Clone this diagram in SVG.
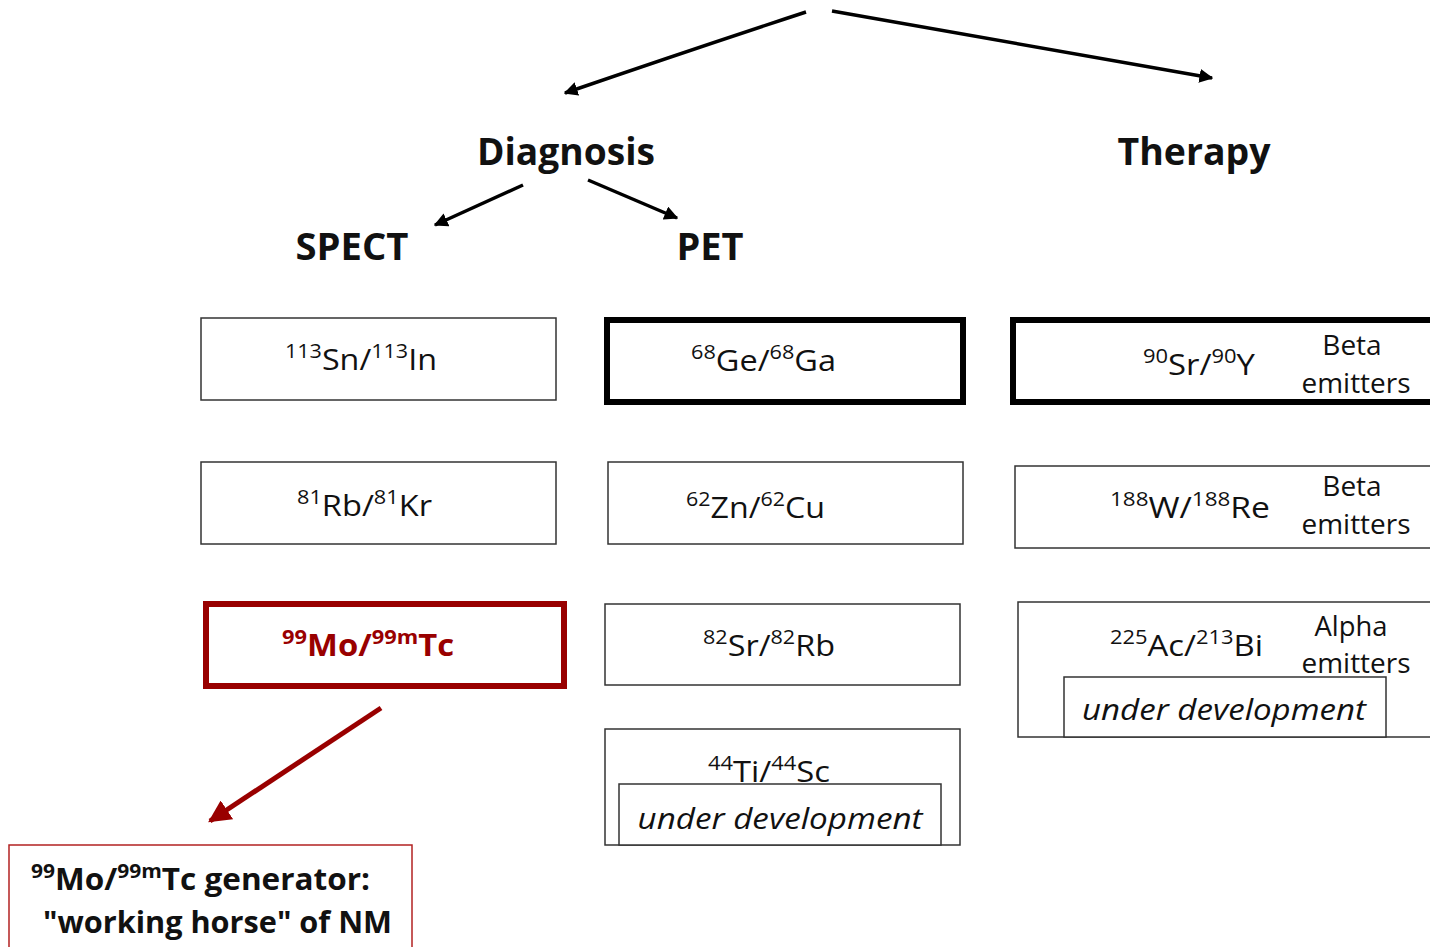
<svg xmlns="http://www.w3.org/2000/svg" width="1430" height="947" viewBox="0 0 1430 947">
<defs>
<style>
text{font-family:"Open Sans","Liberation Sans",sans-serif;fill:#111}
.h{font-weight:bold;font-size:38px}
.n{font-size:30px}
.s{font-size:20px}
.e{font-size:28px}
.i{font-style:italic;font-size:30px}
.box{fill:#fff;stroke:#333;stroke-width:1.5}
.thick{fill:#fff;stroke:#000;stroke-width:6}
.red{fill:#fff;stroke:#990000;stroke-width:6}
.redthin{fill:#fff;stroke:#b22222;stroke-width:1.5}
.c{fill:none;stroke:#000;stroke-width:3.5}
</style>
<marker id="ah" viewBox="0 0 10 10" refX="9" refY="5" markerWidth="4" markerHeight="4" orient="auto" markerUnits="strokeWidth"><path d="M0,0 L10,5 L0,10 z" fill="#000"/></marker>
<marker id="ahr" viewBox="0 0 10 10" refX="9" refY="5" markerWidth="4.5" markerHeight="4.5" orient="auto" markerUnits="strokeWidth"><path d="M0,0 L10,5 L0,10 z" fill="#990000"/></marker>
</defs>
<g id="connectors">
<path class="c" d="M806,12 Q690,50 565,93" marker-end="url(#ah)"/>
<path class="c" d="M832,11 L1212,78" marker-end="url(#ah)"/>
<path class="c" d="M523,185 L435,225" marker-end="url(#ah)"/>
<path class="c" d="M588,180 L677,218" marker-end="url(#ah)"/>
<path d="M381,708 L210,821" fill="none" stroke="#990000" stroke-width="5" marker-end="url(#ahr)"/>
</g>
<g id="diagnosis"><text class="h" x="566" y="165" text-anchor="middle" textLength="178" lengthAdjust="spacingAndGlyphs">Diagnosis</text></g>
<g id="therapy"><text class="h" x="1194" y="165" text-anchor="middle" textLength="153" lengthAdjust="spacingAndGlyphs">Therapy</text></g>
<g id="spect"><text class="h" x="352" y="260" text-anchor="middle" textLength="113" lengthAdjust="spacingAndGlyphs">SPECT</text></g>
<g id="pet"><text class="h" x="710" y="260" text-anchor="middle" textLength="67" lengthAdjust="spacingAndGlyphs">PET</text></g>

<g id="sn-in"><rect class="box" x="201" y="318" width="355" height="82"/>
<text x="285" y="370" textLength="152" lengthAdjust="spacingAndGlyphs"><tspan class="s" dy="-12">113</tspan><tspan class="n" dy="12">Sn/</tspan><tspan class="s" dy="-12">113</tspan><tspan class="n" dy="12">In</tspan></text></g>

<g id="ge-ga"><rect class="thick" x="607" y="320" width="356" height="82"/>
<text x="691" y="371" textLength="145" lengthAdjust="spacingAndGlyphs"><tspan class="s" dy="-12">68</tspan><tspan class="n" dy="12">Ge/</tspan><tspan class="s" dy="-12">68</tspan><tspan class="n" dy="12">Ga</tspan></text></g>

<g id="sr-y"><rect class="thick" x="1013" y="320" width="430" height="82"/>
<text x="1143" y="375" textLength="112" lengthAdjust="spacingAndGlyphs"><tspan class="s" dy="-12">90</tspan><tspan class="n" dy="12">Sr/</tspan><tspan class="s" dy="-12">90</tspan><tspan class="n" dy="12">Y</tspan></text>
<text class="e" x="1352" y="355" text-anchor="middle">Beta</text>
<text class="e" x="1356" y="393" text-anchor="middle" textLength="109" lengthAdjust="spacingAndGlyphs">emitters</text></g>

<g id="rb-kr"><rect class="box" x="201" y="462" width="355" height="82"/>
<text x="297" y="516" textLength="135" lengthAdjust="spacingAndGlyphs"><tspan class="s" dy="-12">81</tspan><tspan class="n" dy="12">Rb/</tspan><tspan class="s" dy="-12">81</tspan><tspan class="n" dy="12">Kr</tspan></text></g>

<g id="zn-cu"><rect class="box" x="608" y="462" width="355" height="82"/>
<text x="686" y="518" textLength="139" lengthAdjust="spacingAndGlyphs"><tspan class="s" dy="-12">62</tspan><tspan class="n" dy="12">Zn/</tspan><tspan class="s" dy="-12">62</tspan><tspan class="n" dy="12">Cu</tspan></text></g>

<g id="w-re"><rect class="box" x="1015" y="466" width="430" height="82"/>
<text x="1110" y="518" textLength="160" lengthAdjust="spacingAndGlyphs"><tspan class="s" dy="-12">188</tspan><tspan class="n" dy="12">W/</tspan><tspan class="s" dy="-12">188</tspan><tspan class="n" dy="12">Re</tspan></text>
<text class="e" x="1352" y="496" text-anchor="middle">Beta</text>
<text class="e" x="1356" y="534" text-anchor="middle" textLength="109" lengthAdjust="spacingAndGlyphs">emitters</text></g>

<g id="mo-tc"><rect class="red" x="206" y="604" width="358" height="82"/>
<text x="282" y="656" textLength="172" lengthAdjust="spacingAndGlyphs" style="fill:#990000;font-weight:bold"><tspan class="s" dy="-12">99</tspan><tspan class="n" dy="12">Mo/</tspan><tspan class="s" dy="-12">99m</tspan><tspan class="n" dy="12">Tc</tspan></text></g>

<g id="sr-rb"><rect class="box" x="605" y="604" width="355" height="81"/>
<text x="703" y="656" textLength="132" lengthAdjust="spacingAndGlyphs"><tspan class="s" dy="-12">82</tspan><tspan class="n" dy="12">Sr/</tspan><tspan class="s" dy="-12">82</tspan><tspan class="n" dy="12">Rb</tspan></text></g>

<g id="ac-bi"><rect class="box" x="1018" y="602" width="430" height="135"/>
<text x="1110" y="656" textLength="153" lengthAdjust="spacingAndGlyphs"><tspan class="s" dy="-12">225</tspan><tspan class="n" dy="12">Ac/</tspan><tspan class="s" dy="-12">213</tspan><tspan class="n" dy="12">Bi</tspan></text>
<text class="e" x="1351" y="636" text-anchor="middle" textLength="73" lengthAdjust="spacingAndGlyphs">Alpha</text>
<text class="e" x="1356" y="673" text-anchor="middle" textLength="109" lengthAdjust="spacingAndGlyphs">emitters</text>
<rect class="box" x="1064" y="677" width="322" height="60"/>
<text class="i" x="1224" y="720" text-anchor="middle" textLength="284" lengthAdjust="spacingAndGlyphs">under development</text></g>

<g id="ti-sc"><rect class="box" x="605" y="729" width="355" height="116"/>
<text x="708" y="782" textLength="122" lengthAdjust="spacingAndGlyphs"><tspan class="s" dy="-12">44</tspan><tspan class="n" dy="12">Ti/</tspan><tspan class="s" dy="-12">44</tspan><tspan class="n" dy="12">Sc</tspan></text>
<rect class="box" x="619" y="784" width="322" height="61"/>
<text class="i" x="780" y="829" text-anchor="middle" textLength="285" lengthAdjust="spacingAndGlyphs">under development</text></g>

<g id="generator"><rect class="redthin" x="9" y="845" width="403" height="110"/>
<text x="31" y="890" textLength="339" lengthAdjust="spacingAndGlyphs" style="font-weight:bold"><tspan class="s" dy="-12">99</tspan><tspan class="n" dy="12">Mo/</tspan><tspan class="s" dy="-12">99m</tspan><tspan class="n" dy="12">Tc generator:</tspan></text>
<text class="n" x="43" y="933" textLength="349" lengthAdjust="spacingAndGlyphs" style="font-weight:bold">"working horse" of NM</text></g>
</svg>
